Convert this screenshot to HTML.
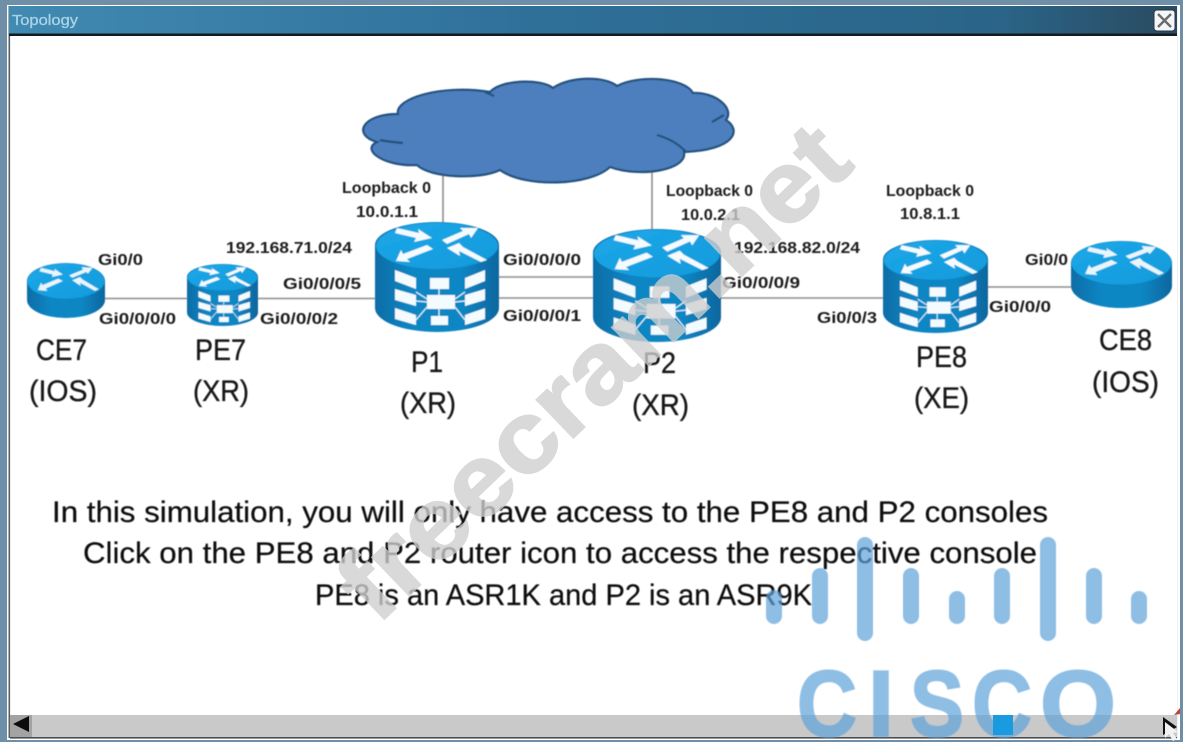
<!DOCTYPE html>
<html lang="en">
<head>
<meta charset="utf-8">
<title>Topology</title>
<style>
html,body{margin:0;padding:0;background:#6f8ea8;}
body{width:1183px;height:742px;overflow:hidden;}
svg{display:block;}
.s{font-family:"Liberation Sans",sans-serif;font-weight:bold;font-size:16px;fill:#1e1e1e;}
.b{font-family:"Liberation Sans",sans-serif;font-size:30px;fill:#141414;stroke:#141414;stroke-width:.3;}
.t{font-family:"Liberation Sans",sans-serif;font-size:30px;fill:#111;stroke:#111;stroke-width:.25;}
.l{stroke:#8d8d8d;stroke-width:1.6;fill:none;}
</style>
</head>
<body>
<svg width="1183" height="742" viewBox="0 0 1183 742" xmlns="http://www.w3.org/2000/svg">
<defs>
<linearGradient id="bar" x1="0" x2="1" y1="0" y2="0">
<stop offset="0" stop-color="#418ab2"/><stop offset=".45" stop-color="#2f7099"/><stop offset=".85" stop-color="#2a6488"/><stop offset="1" stop-color="#2a4a60"/>
</linearGradient>
<linearGradient id="body" x1="0" x2="1" y1="0" y2="0">
<stop offset="0" stop-color="#0d6da6"/><stop offset=".3" stop-color="#1186c4"/><stop offset=".7" stop-color="#1186c4"/><stop offset="1" stop-color="#0b669e"/>
</linearGradient>
<linearGradient id="top" x1="0" x2="1" y1="0" y2="1">
<stop offset="0" stop-color="#1ea8e8"/><stop offset="1" stop-color="#0f9adc"/>
</linearGradient>
<filter id="soft" x="-2%" y="-2%" width="104%" height="104%"><feGaussianBlur stdDeviation="0.45"/></filter>

<symbol id="core" viewBox="0 0 124 110" preserveAspectRatio="none">
<path d="M0,23 A62,23 0 0 1 124,23 V86 A62,24 0 0 1 0,86 Z" fill="url(#body)"/>
<ellipse cx="62" cy="24" rx="61" ry="23" fill="url(#top)"/>
<g fill="#f4fbfe">
<path d="M22,6 L44,11 L43,7 L57,16 L39,20 L41,16 L20,11 Z"/>
<path d="M67,18 L88,9 L85,6 L103,6 L96,16 L94,12 L72,22 Z"/>
<path d="M21,39 L26,28 L28,32 L52,23 L58,27 L32,37 L35,40 Z"/>
<path d="M72,26 L84,21 L88,25 L112,38 L106,40 L84,29 L85,34 Z"/>
<path d="M20,48 L41,56 V67 L20,59 Z"/>
<path d="M20,67 L41,73 V84 L20,78 Z"/>
<path d="M20,86 L41,93 V103 L20,97 Z"/>
<path d="M110,48 L90,56 V67 L110,59 Z"/>
<path d="M110,67 L90,73 V84 L110,78 Z"/>
<path d="M110,86 L90,93 V103 L110,97 Z"/>
<rect x="55" y="56" width="19" height="11"/>
<rect x="52" y="73" width="28" height="14"/>
<rect x="56" y="94" width="17" height="9"/>
</g>
<path d="M64,67 V73 M64,87 V94 M41,70 L52,77 M41,79 L52,80 M41,98 L52,85 M90,70 L80,77 M90,79 L80,80 M90,98 L80,85" stroke="#dff3fb" stroke-width="1.2" fill="none"/>
</symbol>

<symbol id="simple" viewBox="0 0 100 67" preserveAspectRatio="none">
<path d="M0,22 A50,22 0 0 1 100,22 V45 A50,22 0 0 1 0,45 Z" fill="url(#body)"/>
<ellipse cx="50" cy="22" rx="49.5" ry="21.5" fill="url(#top)"/>
<g fill="#e8f6fc">
<path d="M18,6 L36,10 L35,7 L46,14 L32,17 L33,14 L16,10 Z"/>
<path d="M54,15 L72,8 L70,5 L84,6 L78,13 L76,11 L58,18 Z"/>
<path d="M14,33 L18,24 L20,27 L40,19 L46,22 L24,31 L26,34 Z"/>
<path d="M58,21 L68,17 L71,20 L92,32 L87,34 L68,24 L69,28 Z"/>
</g>
</symbol>
</defs>

<!-- window -->
<rect width="1183" height="742" fill="#6f8ea8"/>
<rect x="7" y="5" width="1173" height="735" fill="#ffffff"/>
<rect x="8.5" y="6" width="1.6" height="732" fill="#555f66"/>
<rect x="1177" y="6" width="1" height="732" fill="#eef0f2"/>
<rect x="9" y="6" width="1168" height="29" fill="url(#bar)"/>
<rect x="9" y="33.5" width="1168" height="2.5" fill="#141a1e"/>
<text x="12" y="25" style="font-family:'Liberation Sans',sans-serif;font-size:15px;fill:#a9d3e6;stroke:#a9d3e6;stroke-width:.3" textLength="66" lengthAdjust="spacingAndGlyphs">Topology</text>
<rect x="1154" y="10" width="21" height="21" rx="3" fill="#f4f6f7" stroke="#22384a"/>
<path d="M1158,14 L1171,27 M1171,14 L1158,27" stroke="#6b6b6b" stroke-width="2.4"/>

<!-- scrollbar -->
<rect x="10" y="715" width="1167" height="22" fill="#c9c9c9"/>
<rect x="10" y="737" width="1167" height="1.6" fill="#4b4f52"/>
<rect x="10" y="715" width="22" height="22" fill="#a3a3a3"/>
<path d="M13,724 L29,716 V732 Z" fill="#0c0c0c"/>
<path d="M1163,717 L1177,727 L1163,735 Z" fill="#111"/>
<path d="M1165,722 L1165,738 L1169,734 L1173,741 L1177,739 L1173,733 L1178,732 Z" fill="#f2f2f2"/>
<path d="M1174,715 L1180,708 V714 Z" fill="#b5473f"/>

<g filter="url(#soft)">
<!-- connectors -->
<path class="l" d="M104,298.5 H190 M256,298.5 H378 M497,277 H596 M497,298 H596 M719,298 H886 M986,287 H1073 M443,170 V224 M652,170 V231"/>

<!-- cloud -->
<path d="M398,114 C394,99 440,84 490,92 C500,80 540,78 553,88 C570,76 605,76 617,86 C640,74 685,78 693,93 C715,92 735,108 726,120 C742,130 735,150 684,152 C688,170 640,178 610,167 C590,186 525,188 500,170 C480,180 430,178 417,165 C385,167 360,150 377,142 C352,135 362,114 398,114 Z" fill="#4d7fbe" stroke="#24517f" stroke-width="2.2"/>
<path d="M380,140 Q390,142 403,143 M657,135 Q675,140 686,152 M712,122 L724,115 M485,92 L494,96" fill="none" stroke="#24517f" stroke-width="2.2"/>

<!-- routers -->
<use href="#simple" x="27" y="263" width="78" height="55"/>
<use href="#core" x="187" y="264" width="71" height="62"/>
<use href="#core" x="375" y="222" width="124" height="110"/>
<use href="#core" x="593" y="229" width="128" height="113"/>
<use href="#core" x="883" y="240" width="105" height="93"/>
<use href="#simple" x="1071" y="241" width="101" height="67"/>

<!-- small labels -->
<text class="s" x="98" y="265" textLength="45" lengthAdjust="spacingAndGlyphs">Gi0/0</text>
<text class="s" x="99" y="324" textLength="77" lengthAdjust="spacingAndGlyphs">Gi0/0/0/0</text>
<text class="s" x="226" y="253" textLength="126" lengthAdjust="spacingAndGlyphs">192.168.71.0/24</text>
<text class="s" x="283" y="289" textLength="78" lengthAdjust="spacingAndGlyphs">Gi0/0/0/5</text>
<text class="s" x="260" y="324" textLength="78" lengthAdjust="spacingAndGlyphs">Gi0/0/0/2</text>
<text class="s" x="342" y="193" textLength="89" lengthAdjust="spacingAndGlyphs">Loopback 0</text>
<text class="s" x="356" y="217" textLength="62" lengthAdjust="spacingAndGlyphs">10.0.1.1</text>
<text class="s" x="503" y="265" textLength="78" lengthAdjust="spacingAndGlyphs">Gi0/0/0/0</text>
<text class="s" x="503" y="321" textLength="78" lengthAdjust="spacingAndGlyphs">Gi0/0/0/1</text>
<text class="s" x="666" y="196" textLength="87" lengthAdjust="spacingAndGlyphs">Loopback 0</text>
<text class="s" x="681" y="220" textLength="59" lengthAdjust="spacingAndGlyphs">10.0.2.1</text>
<text class="s" x="734" y="253" textLength="126" lengthAdjust="spacingAndGlyphs">192.168.82.0/24</text>
<text class="s" x="722" y="288" textLength="78" lengthAdjust="spacingAndGlyphs">Gi0/0/0/9</text>
<text class="s" x="817" y="323" textLength="60" lengthAdjust="spacingAndGlyphs">Gi0/0/3</text>
<text class="s" x="886" y="196" textLength="88" lengthAdjust="spacingAndGlyphs">Loopback 0</text>
<text class="s" x="900" y="219" textLength="60" lengthAdjust="spacingAndGlyphs">10.8.1.1</text>
<text class="s" x="1025" y="265" textLength="43" lengthAdjust="spacingAndGlyphs">Gi0/0</text>
<text class="s" x="989" y="312" textLength="62" lengthAdjust="spacingAndGlyphs">Gi0/0/0</text>

<!-- device labels -->
<text class="b" x="36" y="360" textLength="51" lengthAdjust="spacingAndGlyphs">CE7</text>
<text class="b" x="29" y="401" textLength="68" lengthAdjust="spacingAndGlyphs">(IOS)</text>
<text class="b" x="195" y="360" textLength="51" lengthAdjust="spacingAndGlyphs">PE7</text>
<text class="b" x="193" y="401" textLength="56" lengthAdjust="spacingAndGlyphs">(XR)</text>
<text class="b" x="411" y="372" textLength="32" lengthAdjust="spacingAndGlyphs">P1</text>
<text class="b" x="400" y="413" textLength="56" lengthAdjust="spacingAndGlyphs">(XR)</text>
<text class="b" x="643" y="373" textLength="33" lengthAdjust="spacingAndGlyphs">P2</text>
<text class="b" x="632" y="415" textLength="57" lengthAdjust="spacingAndGlyphs">(XR)</text>
<text class="b" x="916" y="367" textLength="51" lengthAdjust="spacingAndGlyphs">PE8</text>
<text class="b" x="914" y="408" textLength="55" lengthAdjust="spacingAndGlyphs">(XE)</text>
<text class="b" x="1099" y="350" textLength="53" lengthAdjust="spacingAndGlyphs">CE8</text>
<text class="b" x="1092" y="392" textLength="67" lengthAdjust="spacingAndGlyphs">(IOS)</text>

<!-- description -->
<text class="t" x="52" y="522" textLength="996" lengthAdjust="spacingAndGlyphs">In this simulation, you will only have access to the PE8 and P2 consoles</text>
<text class="t" x="83" y="563" textLength="954" lengthAdjust="spacingAndGlyphs">Click on the PE8 and P2 router icon to access the respective console</text>
<text class="t" x="315" y="605" textLength="497" lengthAdjust="spacingAndGlyphs">PE8 is an ASR1K and P2 is an ASR9K</text>
</g>

<!-- watermark -->
<text transform="translate(377,626) rotate(-43.8)" style="font-family:'Liberation Sans',sans-serif;font-weight:bold;font-size:100px;fill:#cfcfcf;stroke:#cfcfcf;stroke-width:2;opacity:.78" textLength="664" lengthAdjust="spacingAndGlyphs">freecram.net</text>

<!-- logo -->
<g fill="#5fa3da" stroke="none" opacity=".7" filter="url(#soft)">
<rect x="766" y="590" width="16" height="34" rx="8"/>
<rect x="812" y="568" width="16" height="56" rx="8"/>
<rect x="857" y="537" width="16" height="104" rx="8"/>
<rect x="903" y="568" width="16" height="56" rx="8"/>
<rect x="949" y="591" width="16" height="33" rx="8"/>
<rect x="994" y="568" width="16" height="56" rx="8"/>
<rect x="1040" y="537" width="16" height="104" rx="8"/>
<rect x="1086" y="568" width="16" height="56" rx="8"/>
<rect x="1131" y="591" width="16" height="33" rx="8"/>
<text y="736" style="font-family:'Liberation Sans',sans-serif;font-weight:bold;font-size:94px;stroke:#5fa3da;stroke-width:2"><tspan x="797" textLength="60" lengthAdjust="spacingAndGlyphs">C</tspan><tspan x="868" textLength="26" lengthAdjust="spacingAndGlyphs">I</tspan><tspan x="910" textLength="54" lengthAdjust="spacingAndGlyphs">S</tspan><tspan x="972" textLength="60" lengthAdjust="spacingAndGlyphs">C</tspan><tspan x="1040" textLength="76" lengthAdjust="spacingAndGlyphs">O</tspan></text>
</g>
<rect x="993" y="715" width="20" height="20" fill="#1a9be0"/>
</svg>
</body>
</html>
